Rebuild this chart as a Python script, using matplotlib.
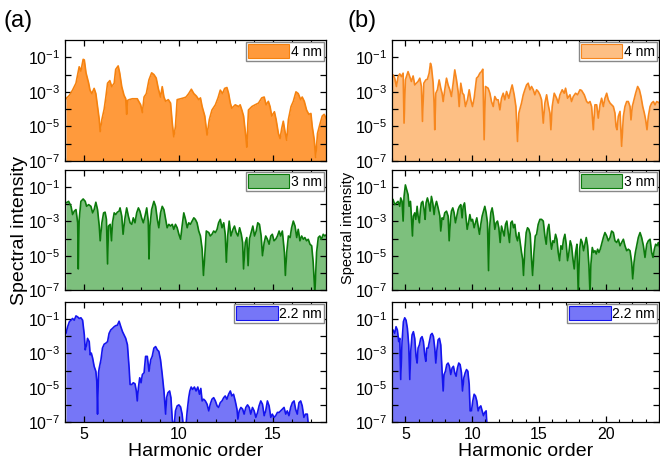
import numpy as np
import matplotlib
matplotlib.use("Agg")
import matplotlib.pyplot as plt
from matplotlib.patches import Patch
from matplotlib.ticker import FixedLocator, FuncFormatter, MultipleLocator

plt.rcParams['font.family'] = ['Liberation Sans', 'DejaVu Sans']
plt.rcParams['mathtext.fontset'] = 'custom'
plt.rcParams['mathtext.rm'] = 'Liberation Sans'
plt.rcParams['mathtext.it'] = 'Liberation Sans'

# -----------------------------
# SPECTRA  (harmonic order, log10 intensity)
# -----------------------------
a_4nm = [
    (4.05, -3.4), (4.23, -3.2), (4.40, -2.9), (4.58, -2.5), (4.75, -1.55), (4.84, -1.8),
    (4.96, -1.12), (5.02, -1.15), (5.11, -1.9), (5.25, -2.5), (5.32, -2.9), (5.42, -3.1),
    (5.54, -2.8), (5.63, -3.1), (5.72, -3.85), (5.81, -4.6), (5.86, -5.3), (5.95, -4.6),
    (6.07, -4.0), (6.16, -3.3), (6.25, -2.5), (6.37, -2.35), (6.47, -2.7), (6.60, -2.5),
    (6.68, -1.7), (6.81, -1.5), (6.89, -1.9), (7.00, -2.7), (7.12, -3.2), (7.21, -3.4),
    (7.26, -4.3), (7.30, -3.5), (7.39, -3.45), (7.56, -3.4), (7.82, -3.4), (8.00, -3.75),
    (8.09, -4.2), (8.18, -3.3), (8.30, -3.1), (8.44, -2.3), (8.58, -1.9), (8.70, -2.0),
    (8.82, -2.2), (8.93, -2.8), (9.05, -3.3), (9.14, -2.7), (9.23, -3.3), (9.32, -3.55),
    (9.46, -3.45), (9.58, -3.65), (9.67, -4.8), (9.75, -5.6), (9.84, -5.0), (9.93, -3.45),
    (10.11, -3.4), (10.28, -3.35), (10.40, -3.3), (10.54, -3.1), (10.68, -2.85), (10.81, -3.1),
    (10.95, -3.25), (11.07, -3.45), (11.16, -3.35), (11.25, -3.85), (11.39, -4.4), (11.51, -5.5),
    (11.63, -4.6), (11.77, -4.05), (11.95, -3.75), (12.09, -3.35), (12.21, -2.9), (12.33, -3.1),
    (12.44, -2.8), (12.56, -2.75), (12.65, -3.1), (12.74, -3.65), (12.82, -3.95), (13.00, -3.75),
    (13.18, -3.85), (13.26, -3.75), (13.35, -4.05), (13.44, -4.4), (13.56, -5.6), (13.61, -6.2),
    (13.66, -5.0), (13.70, -4.05), (13.88, -3.85), (14.05, -3.75), (14.23, -3.65), (14.40, -3.35),
    (14.53, -3.3), (14.63, -3.75), (14.75, -3.55), (14.84, -3.85), (14.93, -4.4), (15.07, -4.15),
    (15.16, -4.6), (15.28, -5.4), (15.37, -5.7), (15.46, -5.1), (15.54, -4.7), (15.63, -5.3),
    (15.72, -5.8), (15.81, -4.6), (15.95, -3.85), (16.07, -3.55), (16.21, -3.0), (16.33, -3.1),
    (16.46, -3.45), (16.54, -3.3), (16.65, -3.55), (16.77, -4.05), (16.89, -4.3), (17.00, -4.25),
    (17.07, -5.0), (17.18, -5.8), (17.25, -6.8), (17.35, -5.4), (17.47, -4.9), (17.60, -4.4),
    (17.70, -4.3), (17.84, -4.6),
]

a_3nm = [
    (4.05, -1.92), (4.19, -1.83), (4.32, -2.12), (4.40, -2.60), (4.49, -2.40), (4.58, -2.31),
    (4.67, -3.08), (4.70, -5.77), (4.75, -2.88), (4.84, -1.83), (4.96, -1.69), (5.07, -1.83),
    (5.14, -2.12), (5.25, -2.02), (5.37, -2.12), (5.46, -2.50), (5.54, -2.31), (5.63, -1.88),
    (5.72, -2.31), (5.81, -3.27), (5.86, -4.13), (5.95, -3.08), (6.04, -2.50), (6.12, -2.46),
    (6.19, -2.88), (6.25, -5.48), (6.30, -3.27), (6.39, -3.17), (6.46, -4.13), (6.51, -3.08),
    (6.60, -2.50), (6.68, -2.60), (6.77, -2.46), (6.86, -2.40), (6.91, -2.21), (7.00, -2.69),
    (7.07, -3.75), (7.16, -2.88), (7.26, -2.21), (7.35, -2.69), (7.44, -3.08), (7.53, -3.17),
    (7.61, -2.79), (7.70, -3.08), (7.79, -2.50), (7.88, -2.21), (7.96, -2.40), (8.05, -2.79),
    (8.14, -3.08), (8.23, -2.69), (8.32, -2.21), (8.40, -2.98), (8.44, -5.19), (8.49, -3.27),
    (8.58, -2.31), (8.70, -1.83), (8.79, -2.12), (8.88, -2.88), (8.96, -3.37), (9.05, -2.50),
    (9.14, -2.12), (9.23, -2.31), (9.32, -2.88), (9.40, -3.37), (9.49, -3.17), (9.58, -3.27),
    (9.67, -3.17), (9.75, -3.46), (9.84, -3.17), (9.93, -3.37), (10.02, -3.75), (10.11, -4.04),
    (10.19, -3.27), (10.28, -2.50), (10.37, -2.88), (10.46, -3.37), (10.54, -3.08), (10.63, -3.17),
    (10.72, -2.98), (10.81, -2.79), (10.89, -2.88), (10.98, -3.08), (11.07, -3.56), (11.16, -3.85),
    (11.25, -4.62), (11.32, -6.15), (11.39, -5.00), (11.47, -3.56), (11.60, -3.65), (11.68, -3.85),
    (11.77, -3.75), (11.86, -3.56), (11.95, -3.65), (12.04, -3.46), (12.12, -3.08), (12.21, -2.88),
    (12.30, -3.37), (12.39, -3.08), (12.47, -3.75), (12.53, -5.38), (12.60, -3.85), (12.68, -2.98),
    (12.77, -3.85), (12.88, -3.46), (12.96, -3.27), (13.05, -3.65), (13.14, -3.85), (13.23, -3.37),
    (13.32, -3.75), (13.39, -4.23), (13.44, -5.77), (13.53, -4.23), (13.61, -3.94), (13.68, -5.58),
    (13.75, -4.04), (13.84, -3.65), (13.93, -3.27), (14.02, -3.85), (14.11, -3.56), (14.19, -3.08),
    (14.28, -3.17), (14.37, -3.85), (14.44, -5.00), (14.53, -4.23), (14.61, -3.85), (14.70, -4.04),
    (14.79, -4.33), (14.88, -3.85), (14.96, -3.75), (15.05, -4.13), (15.14, -4.04), (15.23, -3.85),
    (15.32, -3.56), (15.40, -3.85), (15.49, -3.56), (15.60, -4.81), (15.65, -6.15), (15.72, -4.81),
    (15.81, -3.85), (15.90, -3.94), (15.98, -3.37), (16.07, -2.98), (16.16, -3.27), (16.25, -3.94),
    (16.33, -3.46), (16.42, -4.13), (16.51, -3.85), (16.60, -4.04), (16.68, -3.94), (16.77, -4.13),
    (16.86, -4.04), (16.95, -4.33), (17.04, -4.42), (17.12, -5.38), (17.21, -7.2), (17.30, -4.81),
    (17.39, -3.94), (17.47, -3.85), (17.56, -4.04), (17.65, -3.75), (17.74, -3.85), (17.84, -3.75),
]

a_22nm = [
    (4.05, -1.83), (4.14, -1.44), (4.23, -1.15), (4.32, -1.06), (4.40, -0.96), (4.49, -1.06),
    (4.58, -0.81), (4.67, -0.87), (4.75, -0.96), (4.84, -0.92), (4.93, -1.06), (5.02, -1.92),
    (5.07, -2.79), (5.14, -2.50), (5.19, -2.12), (5.28, -2.31), (5.33, -3.08), (5.39, -2.98),
    (5.46, -3.27), (5.54, -3.75), (5.63, -4.04), (5.68, -4.62), (5.72, -6.54), (5.77, -4.13),
    (5.81, -3.85), (5.90, -3.37), (5.98, -2.69), (6.07, -2.46), (6.16, -2.40), (6.25, -2.31),
    (6.33, -1.83), (6.42, -1.63), (6.51, -1.54), (6.60, -1.44), (6.68, -1.38), (6.77, -1.35),
    (6.86, -1.12), (6.95, -1.44), (7.04, -1.73), (7.12, -1.92), (7.21, -2.12), (7.30, -2.50),
    (7.39, -3.85), (7.44, -4.81), (7.53, -4.81), (7.61, -4.71), (7.70, -4.77), (7.77, -5.19),
    (7.82, -5.77), (7.88, -5.00), (7.95, -4.42), (8.02, -4.71), (8.09, -4.23), (8.18, -4.13),
    (8.26, -3.17), (8.35, -3.17), (8.44, -4.04), (8.53, -3.37), (8.61, -3.17), (8.70, -2.69),
    (8.79, -2.60), (8.88, -2.79), (8.96, -2.88), (9.05, -3.37), (9.14, -4.23), (9.23, -5.19),
    (9.32, -6.54), (9.37, -5.58), (9.44, -5.29), (9.53, -5.19), (9.60, -5.58), (9.67, -6.83),
    (9.75, -7.5), (9.84, -6.35), (9.93, -6.06), (10.02, -6.00), (10.11, -6.12), (10.19, -6.54),
    (10.28, -7.5), (10.37, -7.5), (10.46, -6.35), (10.54, -5.58), (10.60, -5.19), (10.67, -4.96),
    (10.75, -5.10), (10.84, -4.96), (10.93, -5.19), (11.02, -4.96), (11.11, -5.38), (11.18, -5.04),
    (11.25, -5.77), (11.33, -5.67), (11.42, -5.77), (11.51, -5.96), (11.60, -6.35), (11.68, -5.96),
    (11.77, -5.67), (11.86, -5.58), (11.95, -5.77), (12.04, -6.06), (12.12, -6.15), (12.21, -5.87),
    (12.30, -5.77), (12.39, -5.58), (12.47, -5.48), (12.56, -5.67), (12.65, -5.38), (12.74, -5.19),
    (12.82, -5.48), (12.91, -5.38), (13.00, -5.77), (13.09, -6.25), (13.14, -6.83), (13.21, -6.35),
    (13.30, -6.15), (13.39, -6.25), (13.47, -6.54), (13.56, -6.15), (13.65, -6.00), (13.74, -6.15),
    (13.82, -6.54), (13.91, -6.15), (14.00, -6.35), (14.09, -6.73), (14.18, -6.44), (14.26, -6.06),
    (14.35, -5.77), (14.44, -5.96), (14.53, -6.63), (14.61, -6.35), (14.70, -5.77), (14.79, -6.06),
    (14.88, -6.73), (14.96, -6.54), (15.05, -6.73), (15.14, -6.63), (15.23, -6.44), (15.32, -6.44),
    (15.40, -6.35), (15.49, -6.25), (15.58, -6.15), (15.67, -6.54), (15.75, -6.35), (15.84, -6.63),
    (15.93, -6.15), (16.02, -5.87), (16.11, -5.77), (16.19, -6.25), (16.28, -6.54), (16.37, -5.87),
    (16.46, -5.77), (16.54, -6.06), (16.63, -6.73), (16.72, -6.54), (16.81, -6.54), (16.89, -7.5),
]

b_4nm = [
    (3.95, -2.12), (4.08, -2.02), (4.20, -2.21), (4.33, -2.69), (4.45, -2.12), (4.58, -1.96),
    (4.70, -2.12), (4.83, -1.92), (4.90, -4.81), (5.00, -2.31), (5.20, -1.83), (5.33, -2.12),
    (5.45, -2.40), (5.58, -2.08), (5.70, -2.60), (5.83, -2.50), (5.95, -2.40), (6.08, -2.21),
    (6.20, -2.69), (6.28, -4.71), (6.38, -2.50), (6.53, -2.31), (6.65, -2.27), (6.78, -1.92),
    (6.88, -1.35), (6.95, -1.54), (7.08, -2.50), (7.15, -3.65), (7.20, -5.19), (7.28, -3.08),
    (7.40, -2.88), (7.53, -2.31), (7.65, -2.79), (7.75, -3.08), (7.83, -3.56), (7.95, -2.88),
    (8.08, -2.21), (8.20, -2.60), (8.33, -2.88), (8.45, -3.27), (8.58, -2.50), (8.70, -1.73),
    (8.83, -2.31), (8.95, -2.98), (9.03, -3.85), (9.15, -2.50), (9.28, -3.08), (9.38, -3.17),
    (9.50, -3.85), (9.65, -3.46), (9.78, -2.88), (9.90, -3.46), (10.03, -3.85), (10.15, -3.37),
    (10.33, -2.21), (10.45, -2.12), (10.58, -1.92), (10.70, -1.83), (10.80, -1.69), (10.90, -5.77),
    (11.00, -2.69), (11.20, -2.79), (11.33, -3.08), (11.45, -3.56), (11.58, -3.85), (11.70, -3.27),
    (11.83, -3.46), (11.95, -3.46), (12.08, -4.04), (12.20, -3.37), (12.33, -3.08), (12.45, -3.46),
    (12.58, -2.98), (12.75, -3.37), (12.90, -2.88), (13.00, -2.60), (13.15, -3.17), (13.28, -3.85),
    (13.40, -5.87), (13.50, -4.23), (13.70, -3.65), (13.83, -3.17), (13.95, -2.88), (14.08, -2.60),
    (14.20, -2.50), (14.33, -2.88), (14.45, -2.69), (14.58, -2.88), (14.70, -3.17), (14.83, -2.88),
    (14.95, -2.98), (15.08, -3.17), (15.20, -3.46), (15.33, -4.81), (15.45, -3.65), (15.58, -3.17),
    (15.70, -3.75), (15.83, -4.23), (15.90, -5.19), (16.00, -3.85), (16.15, -3.08), (16.33, -3.37),
    (16.45, -3.65), (16.58, -3.17), (16.75, -2.88), (16.90, -3.08), (17.00, -2.79), (17.15, -3.37),
    (17.33, -3.17), (17.45, -3.56), (17.58, -3.27), (17.75, -3.08), (17.90, -3.17), (18.08, -2.88),
    (18.20, -2.92), (18.40, -3.17), (18.58, -3.56), (18.70, -3.65), (18.83, -3.56), (18.95, -3.85),
    (19.08, -5.19), (19.20, -3.75), (19.33, -3.75), (19.45, -4.52), (19.58, -3.75), (19.70, -3.37),
    (19.83, -3.85), (19.95, -3.37), (20.08, -3.08), (20.20, -3.46), (20.33, -3.65), (20.45, -3.75),
    (20.58, -3.85), (20.70, -4.23), (20.78, -5.00), (20.85, -5.19), (20.95, -4.42), (21.08, -4.13),
    (21.20, -6.15), (21.33, -4.42), (21.45, -3.85), (21.58, -3.56), (21.70, -3.56), (21.83, -3.85),
    (21.90, -4.62), (22.00, -3.85), (22.13, -3.46), (22.25, -3.08), (22.40, -2.69), (22.53, -2.88),
    (22.65, -3.27), (22.78, -3.85), (22.90, -4.23), (23.00, -4.62), (23.10, -5.19), (23.20, -4.42),
    (23.33, -3.85), (23.45, -3.65), (23.58, -3.56), (23.70, -3.75), (23.83, -3.56), (24.05, -3.65),
]

b_3nm = [
    (3.95, -1.63), (4.08, -1.73), (4.20, -2.02), (4.33, -1.92), (4.45, -1.83), (4.58, -2.12),
    (4.65, -1.63), (4.75, -1.83), (4.83, -2.98), (4.90, -1.54), (5.00, -0.87), (5.10, -1.15),
    (5.20, -1.44), (5.28, -2.12), (5.38, -1.83), (5.45, -2.69), (5.53, -3.85), (5.60, -2.69),
    (5.70, -2.50), (5.78, -2.88), (5.88, -2.12), (5.95, -2.69), (6.05, -3.08), (6.13, -2.31),
    (6.20, -1.92), (6.30, -1.83), (6.40, -2.31), (6.48, -2.88), (6.55, -1.92), (6.65, -1.63),
    (6.75, -1.92), (6.85, -2.40), (6.95, -1.54), (7.05, -1.92), (7.15, -2.60), (7.23, -2.12),
    (7.33, -1.83), (7.45, -2.21), (7.58, -2.69), (7.65, -3.56), (7.75, -2.79), (7.85, -2.88),
    (7.95, -2.50), (8.08, -2.40), (8.20, -2.69), (8.28, -4.13), (8.38, -2.88), (8.45, -2.40),
    (8.55, -2.21), (8.65, -2.50), (8.75, -3.08), (8.85, -2.69), (8.95, -2.31), (9.05, -2.12),
    (9.15, -2.02), (9.25, -2.79), (9.33, -2.12), (9.43, -1.92), (9.53, -2.69), (9.63, -3.46),
    (9.73, -3.08), (9.83, -2.60), (9.93, -2.98), (10.03, -2.88), (10.15, -3.37), (10.25, -3.08),
    (10.35, -2.79), (10.45, -3.27), (10.55, -3.75), (10.65, -3.17), (10.75, -2.69), (10.85, -2.40),
    (10.95, -2.12), (11.05, -2.50), (11.15, -3.08), (11.23, -5.87), (11.30, -3.46), (11.40, -2.50),
    (11.50, -2.21), (11.60, -2.69), (11.70, -3.46), (11.80, -3.08), (11.90, -2.98), (12.00, -3.37),
    (12.10, -4.23), (12.20, -3.27), (12.30, -3.56), (12.40, -3.85), (12.50, -3.17), (12.60, -2.98),
    (12.70, -3.65), (12.80, -4.23), (12.90, -3.08), (13.00, -2.98), (13.10, -3.37), (13.20, -3.17),
    (13.30, -3.85), (13.40, -4.13), (13.50, -3.65), (13.60, -4.23), (13.70, -4.81), (13.78, -5.19),
    (13.85, -6.15), (13.95, -4.62), (14.05, -3.65), (14.15, -3.37), (14.25, -3.46), (14.35, -3.75),
    (14.45, -5.19), (14.53, -6.15), (14.63, -4.81), (14.73, -3.85), (14.83, -3.75), (14.95, -3.17),
    (15.08, -2.88), (15.20, -2.88), (15.33, -2.98), (15.45, -3.85), (15.55, -4.33), (15.65, -3.46),
    (15.75, -3.17), (15.85, -4.04), (15.95, -4.62), (16.05, -4.13), (16.15, -4.23), (16.25, -3.75),
    (16.35, -4.04), (16.45, -4.81), (16.55, -5.29), (16.65, -4.42), (16.75, -4.62), (16.85, -4.04),
    (16.95, -3.75), (17.05, -4.33), (17.15, -5.29), (17.25, -4.81), (17.35, -4.13), (17.45, -4.42),
    (17.55, -5.19), (17.65, -5.77), (17.75, -4.81), (17.85, -4.33), (17.95, -7.2), (18.05, -4.62),
    (18.15, -4.04), (18.25, -4.23), (18.35, -4.71), (18.45, -4.33), (18.55, -3.94), (18.65, -4.42),
    (18.75, -5.58), (18.83, -7.2), (18.90, -5.48), (19.00, -4.52), (19.10, -4.81), (19.20, -4.71),
    (19.30, -4.90), (19.40, -4.62), (19.50, -4.81), (19.60, -4.62), (19.70, -4.33), (19.83, -3.94),
    (19.95, -3.65), (20.08, -3.85), (20.20, -4.13), (20.33, -3.94), (20.45, -3.56), (20.58, -3.65),
    (20.70, -4.13), (20.83, -4.23), (20.95, -4.04), (21.08, -4.42), (21.20, -4.23), (21.33, -4.04),
    (21.45, -4.42), (21.58, -4.71), (21.70, -4.62), (21.83, -4.71), (21.95, -5.38), (22.03, -6.35),
    (22.13, -5.38), (22.23, -4.81), (22.35, -4.33), (22.45, -3.94), (22.58, -3.65), (22.70, -3.94),
    (22.83, -4.42), (22.95, -5.10), (23.08, -4.33), (23.20, -4.13), (23.33, -4.04), (23.45, -4.81),
    (23.55, -5.10), (23.65, -4.62), (23.75, -4.33), (23.85, -4.42), (23.95, -4.23), (24.05, -4.52),
]

b_22nm = [
    (3.95, -1.92), (4.08, -1.63), (4.20, -1.83), (4.30, -1.44), (4.40, -1.63), (4.50, -2.31),
    (4.58, -2.12), (4.65, -4.52), (4.75, -2.31), (4.85, -1.15), (4.95, -0.92), (5.05, -1.06),
    (5.15, -1.54), (5.25, -2.50), (5.33, -4.52), (5.40, -2.88), (5.50, -1.92), (5.60, -1.73),
    (5.70, -2.12), (5.80, -3.17), (5.88, -3.56), (5.95, -2.69), (6.05, -2.50), (6.15, -2.12),
    (6.25, -2.02), (6.35, -2.31), (6.45, -3.08), (6.53, -3.46), (6.60, -2.69), (6.70, -2.69),
    (6.80, -2.31), (6.90, -1.92), (7.00, -1.83), (7.10, -2.02), (7.20, -2.69), (7.28, -3.56),
    (7.35, -2.88), (7.45, -2.21), (7.55, -2.12), (7.65, -2.50), (7.75, -4.04), (7.83, -5.19),
    (7.90, -4.23), (8.00, -4.04), (8.10, -3.65), (8.20, -3.56), (8.30, -3.75), (8.40, -4.23),
    (8.50, -3.85), (8.60, -3.75), (8.70, -4.13), (8.80, -4.33), (8.90, -3.85), (9.00, -3.56),
    (9.10, -3.65), (9.20, -4.13), (9.28, -5.19), (9.38, -4.42), (9.48, -4.13), (9.58, -3.94),
    (9.68, -4.04), (9.78, -4.81), (9.85, -6.35), (9.95, -6.35), (10.05, -5.77), (10.15, -5.38),
    (10.25, -5.48), (10.35, -5.77), (10.45, -6.35), (10.55, -6.15), (10.65, -6.06), (10.75, -6.35),
    (10.85, -6.63), (10.95, -6.44), (11.05, -6.35), (11.13, -7.5),
]

# panel specs: data, label, fill colour, edge colour
LEFT = [
    (a_4nm, "4 nm", "#FF9A3C", "#F5820F"),
    (a_3nm, "3 nm", "#7DC07D", "#0B7A0B"),
    (a_22nm, "2.2 nm", "#7676F7", "#1414EE"),
]
RIGHT = [
    (b_4nm, "4 nm", "#FDBF84", "#F7871E"),
    (b_3nm, "3 nm", "#7DC07D", "#0B7A0B"),
    (b_22nm, "2.2 nm", "#7676F7", "#1414EE"),
]

# -----------------------------
# FIGURE
# -----------------------------
fig = plt.figure(figsize=(6.6, 4.66), dpi=100)

ROWS = [(0.6545, 0.2597), (0.3777, 0.2575), (0.0944, 0.2575)]
COLS = [(0.0985, 0.3955, (4.0, 17.8), [5, 10, 15]),
        (0.594, 0.4045, (4.0, 24.0), [5, 10, 15, 20])]

def log_label(v, _pos):
    e = int(round(np.log10(v)))
    return r"$10^{%d}$" % e if e % 2 else ""

def draw_panel(ax, series, xlim, xticks, show_x):
    data, label, fill, edge = series
    arr = np.array(data)
    x, y = arr[:, 0], 10.0 ** arr[:, 1]
    ax.fill_between(x, y, 1e-9, color=fill, lw=0)
    ax.plot(x, y, color=edge, lw=1.2)
    ax.set_yscale("log")
    ax.set_ylim(1e-7, 1.0)
    ax.set_xlim(*xlim)
    ax.yaxis.set_major_locator(FixedLocator([10.0 ** e for e in range(-7, 0)]))
    ax.yaxis.set_major_formatter(FuncFormatter(log_label))
    ax.yaxis.set_minor_locator(FixedLocator([]))
    ax.xaxis.set_major_locator(FixedLocator(xticks))
    ax.xaxis.set_minor_locator(MultipleLocator(1))
    ax.tick_params(which="both", direction="in", top=True, right=True, labelsize=11.5)
    ax.tick_params(which="major", length=4, width=0.9)
    ax.tick_params(which="minor", length=2.5, width=0.8)
    if not show_x:
        ax.tick_params(labelbottom=False)
    for s in ax.spines.values():
        s.set_linewidth(0.9)
    h = Patch(facecolor=fill, edgecolor=edge, lw=0.8)
    ax.legend([h], [label], loc="upper right", fontsize=10, frameon=True, fancybox=False,
              edgecolor="#888888", framealpha=1, handlelength=3.0, handleheight=1.2,
              handletextpad=0.1, borderpad=0.15, borderaxespad=0.15)

for ci, (x0, w, xlim, xticks) in enumerate(COLS):
    panels = LEFT if ci == 0 else RIGHT
    for ri, (y0, h) in enumerate(ROWS):
        ax = fig.add_axes([x0, y0, w, h])
        draw_panel(ax, panels[ri], xlim, xticks, ri == 2)
        if ri == 2:
            ax.set_xlabel("Harmonic order", fontsize=14, labelpad=1)

fig.text(0.030, 0.505, "Spectral intensity", rotation=90, ha="center", va="center", fontsize=14)
fig.text(0.528, 0.51, "Spectral intensity", rotation=90, ha="center", va="center", fontsize=10.5)
fig.text(0.006, 0.955, "(a)", fontsize=17, ha="left", va="center")
fig.text(0.527, 0.955, "(b)", fontsize=17, ha="left", va="center")

fig.savefig("out.png", dpi=100)
